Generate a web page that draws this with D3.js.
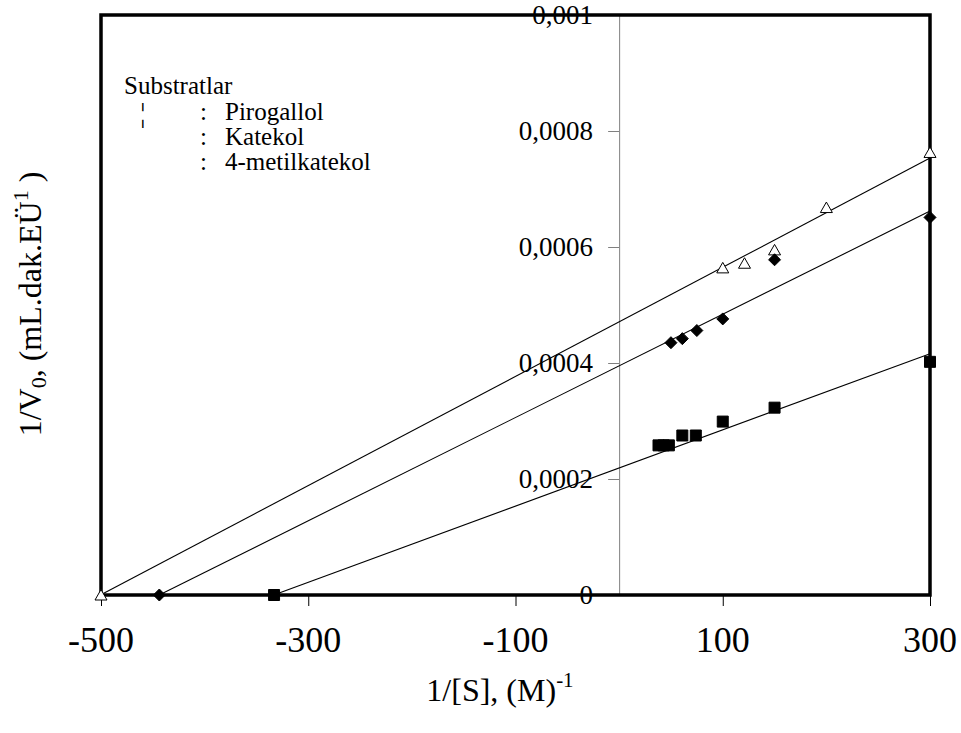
<!DOCTYPE html>
<html><head><meta charset="utf-8">
<script src="https://cdn.jsdelivr.net/npm/d3@7"></script>
<style>body{margin:0;background:#fff}</style>
</head><body><svg id="c" width="961" height="733" font-family="'Liberation Serif', 'Times New Roman', serif"></svg>
<script>
// ---- data ----
const seriesNames = ["Pirogallol", "Katekol", "4-metilkatekol"];
const pirogallolX = [-500, 100, 121, 150, 200, 300];
const pirogallolY = [0, 0.000564, 0.000572, 0.000595, 0.000668, 0.000763];
const katekolX = [-443.7, 50, 61, 75, 100, 150, 300];
const katekolY = [0, 0.000435, 0.000442, 0.000456, 0.000476, 0.000578, 0.000651];
const metilkatekolX = [-333, 38, 43, 48, 61, 74, 100, 150, 300];
const metilkatekolY = [0, 0.000258, 0.000258, 0.000258, 0.000275, 0.000275, 0.000299, 0.000323, 0.000402];
const fitIntercept = [0.000471, 0.000395, 0.000219];
const fitSlope = [9.41e-7, 8.90e-7, 6.57e-7];
const xTicks = [-500, -300, -100, 100, 300];
const yTicks = [0, 0.0002, 0.0004, 0.0006, 0.0008, 0.001];
const yTickLabels = ["0", "0,0002", "0,0004", "0,0006", "0,0008", "0,001"];

const svg = d3.select("#c");
const L = 101, R = 930, T = 15, B = 595;
const x = d3.scaleLinear().domain([-500, 300]).range([L, R]);
const y = d3.scaleLinear().domain([0, 0.001]).range([B, T]);

const series = [
  {name: seriesNames[0], xs: pirogallolX, ys: pirogallolY, shape: "tri"},
  {name: seriesNames[1], xs: katekolX, ys: katekolY, shape: "dia"},
  {name: seriesNames[2], xs: metilkatekolX, ys: metilkatekolY, shape: "sq"}
];

// vertical axis at x = 0
const yAxis = d3.axisLeft(y).tickValues(yTicks).tickSize(11).tickFormat("");
const ya = svg.append("g").attr("transform", `translate(${x(0)},0)`).call(yAxis);
ya.select(".domain").attr("stroke", "#808080");
ya.selectAll(".tick line").attr("stroke", "#808080");

// x axis ticks
const xAxis = d3.axisBottom(x).tickValues(xTicks).tickSize(11).tickFormat("");
const xa = svg.append("g").attr("transform", `translate(0,${B})`).call(xAxis);
xa.select(".domain").remove();

// fit lines
series.forEach((s, i) => {
  const x0 = -fitIntercept[i] / fitSlope[i];
  svg.append("line")
    .attr("x1", x(x0)).attr("y1", y(0))
    .attr("x2", x(300)).attr("y2", y(fitIntercept[i] + fitSlope[i] * 300))
    .attr("stroke", "#000").attr("stroke-width", 1.1);
});

// frame
svg.append("rect").attr("x", L).attr("y", T).attr("width", R - L).attr("height", B - T)
  .attr("fill", "none").attr("stroke", "#000").attr("stroke-width", 3.5);

// tick labels
svg.append("g").selectAll("text").data(yTicks).join("text")
  .attr("x", 593).attr("y", d => y(d)).attr("dy", "0.35em")
  .attr("text-anchor", "end").attr("font-size", 27)
  .text((d, i) => yTickLabels[i]);
svg.append("g").selectAll("text").data(xTicks).join("text")
  .attr("x", d => x(d)).attr("y", 652)
  .attr("text-anchor", "middle").attr("font-size", 36)
  .text(d => d);

// markers
function shapePath(shape) {
  if (shape === "tri") return "M0,-5.5L6,5L-6,5Z";
  if (shape === "dia") return "M0,-6L6,0L0,6L-6,0Z";
  return "M-5.5,-5.5H5.5V5.5H-5.5Z";
}
series.forEach(s => {
  svg.append("g").selectAll("path").data(s.xs.map((v, i) => [v, s.ys[i]])).join("path")
    .attr("transform", d => `translate(${x(d[0])},${y(d[1])})`)
    .attr("d", shapePath(s.shape))
    .attr("fill", s.shape === "tri" ? "#fff" : "#000")
    .attr("stroke", "#000").attr("stroke-width", 1);
});

// legend
const lg = svg.append("g").attr("font-size", 25);
lg.append("text").attr("x", 124).attr("y", 94).text("Substratlar");
const rowY = [120, 145, 170];
lg.append("text").attr("x", 140).attr("y", rowY[0] + 2).attr("font-size", 28).text("\u00A6");
seriesNames.forEach((n, i) => {
  lg.append("text").attr("x", 200).attr("y", rowY[i]).text(":");
  lg.append("text").attr("x", 225).attr("y", rowY[i]).text(n);
});

// axis titles
const xt = svg.append("text").attr("x", 500).attr("y", 701).attr("text-anchor", "middle").attr("font-size", 32);
xt.append("tspan").text("1/[S], (M)");
xt.append("tspan").attr("font-size", 21).attr("dy", -14).text("-1");

const yt = svg.append("text").attr("transform", "translate(41,304) rotate(-90)")
  .attr("text-anchor", "middle").attr("font-size", 32);
yt.append("tspan").text("1/V");
yt.append("tspan").attr("font-size", 22).attr("dy", 5).text("0");
yt.append("tspan").attr("dy", -5).text(", (mL.dak.EÜ");
yt.append("tspan").attr("font-size", 22).attr("dy", -13).text("1");
yt.append("tspan").attr("dy", 13).text(" )");
</script></body></html>
